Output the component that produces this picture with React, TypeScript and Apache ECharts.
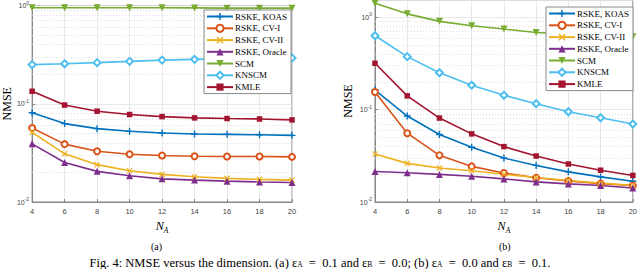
import React, { useEffect, useRef } from "react";
import * as echarts from "echarts";

const NA = [4, 6, 8, 10, 12, 14, 16, 18, 20];
const seriesNames = ["RSKE, KOAS", "RSKE, CV-I", "RSKE, CV-II", "RSKE, Oracle", "SCM", "KNSCM", "KMLE"];
const colors = ["#0072BD", "#D95319", "#EDB120", "#7E2F8E", "#77AC30", "#4DBEEE", "#A2142F"];

// (a) eps_A = 0.1, eps_B = 0.0
const aKOAS = [0.0809, 0.0628, 0.0558, 0.0524, 0.0504, 0.0492, 0.0488, 0.0484, 0.0477];
const aCV1 = [0.0567, 0.0388, 0.0329, 0.0306, 0.0297, 0.0292, 0.029, 0.029, 0.0288];
const aCV2 = [0.0512, 0.0309, 0.024, 0.0208, 0.0191, 0.0181, 0.0174, 0.017, 0.0167];
const aOracle = [0.0391, 0.0252, 0.0205, 0.0185, 0.0172, 0.0167, 0.0163, 0.016, 0.0158];
const aSCM = [0.95, 0.95, 0.95, 0.95, 0.95, 0.945, 0.94, 0.94, 0.94];
const aKNSCM = [0.25, 0.255, 0.262, 0.27, 0.278, 0.283, 0.287, 0.29, 0.292];
const aKMLE = [0.134, 0.097, 0.084, 0.0777, 0.074, 0.0718, 0.0707, 0.07, 0.0685];

// (b) eps_A = 0.0, eps_B = 0.1
const bKOAS = [0.163, 0.0853, 0.0538, 0.0392, 0.0299, 0.0249, 0.0212, 0.0187, 0.0168];
const bCV1 = [0.155, 0.0556, 0.032, 0.0243, 0.0206, 0.0183, 0.0169, 0.0158, 0.0151];
const bCV2 = [0.0331, 0.0262, 0.0233, 0.0218, 0.02, 0.0184, 0.0171, 0.016, 0.0151];
const bOracle = [0.0214, 0.0207, 0.0199, 0.019, 0.0178, 0.0165, 0.0157, 0.0151, 0.0142];
const bSCM = [1.42, 1.09, 0.904, 0.811, 0.746, 0.686, 0.66, 0.635, 0.615];
const bKNSCM = [0.631, 0.375, 0.251, 0.184, 0.143, 0.116, 0.095, 0.0818, 0.0698];
const bKMLE = [0.318, 0.141, 0.0811, 0.0547, 0.0398, 0.0315, 0.0258, 0.0221, 0.0194];

const minorGridA = [0.02, 0.03, 0.04, 0.05, 0.06, 0.07, 0.08, 0.09, 0.2, 0.3, 0.4, 0.5, 0.6, 0.7, 0.8, 0.9];
const minorGridB = [0.02, 0.03, 0.04, 0.05, 0.06, 0.07, 0.08, 0.09, 0.2, 0.3, 0.4, 0.5, 0.6, 0.7, 0.8, 0.9];

const PLUS = "path://M4,0H6V4H10V6H6V10H4V6H0V4H4Z";
const CROSS = "path://M1.4,0L5,3.6L8.6,0L10,1.4L6.4,5L10,8.6L8.6,10L5,6.4L1.4,10L0,8.6L3.6,5L0,1.4Z";

const symbols: any[] = [
  { symbol: PLUS, symbolSize: 7, rotate: 0, empty: false },
  { symbol: "emptyCircle", symbolSize: 6, rotate: 0, empty: true },
  { symbol: CROSS, symbolSize: 6, rotate: 0, empty: false },
  { symbol: "triangle", symbolSize: 7, rotate: 0, empty: false },
  { symbol: "triangle", symbolSize: 7, rotate: 180, empty: false },
  { symbol: "emptyDiamond", symbolSize: 7, rotate: 0, empty: true },
  { symbol: "rect", symbolSize: 5.5, rotate: 0, empty: false },
];

const SERIF = "Liberation Serif";
const SANS = "Liberation Sans";

export default function App() {
  const ref = useRef<HTMLDivElement>(null);
  useEffect(() => {
    if (!ref.current) return;
    const chart = echarts.init(ref.current, undefined, { renderer: "svg" });
    const dataA = [aKOAS, aCV1, aCV2, aOracle, aSCM, aKNSCM, aKMLE];
    const dataB = [bKOAS, bCV1, bCV2, bOracle, bSCM, bKNSCM, bKMLE];

    const makeSeries = (data: number[][], idx: number, minor: number[]) =>
      data.map((vals, i) => {
        const s = symbols[i];
        const ser: any = {
          type: "line",
          name: seriesNames[i],
          xAxisIndex: idx,
          yAxisIndex: idx,
          data: NA.map((x, k) => [x, vals[k]]),
          symbol: s.symbol,
          symbolSize: s.symbolSize,
          symbolRotate: s.rotate,
          showAllSymbol: true,
          color: colors[i],
          lineStyle: { width: 1.6, color: colors[i] },
          itemStyle: s.empty
            ? { color: colors[i], borderColor: colors[i], borderWidth: 1.2 }
            : { color: colors[i], borderWidth: 0 },
          z: 3,
        };
        if (i === 0) {
          ser.markLine = {
            silent: true,
            symbol: ["none", "none"],
            label: { show: false },
            lineStyle: { color: "#d6d6d6", type: [1, 2], width: 0.8 },
            data: minor.map((v) => ({ yAxis: v })),
            z: 1,
          };
        }
        return ser;
      });

    const yAxis = (gi: number, max: number, gap: number) => ({
      type: "log",
      gridIndex: gi,
      logBase: 10,
      min: 0.01,
      max,
      name: "NMSE",
      nameLocation: "middle",
      nameGap: gap,
      nameRotate: 90,
      nameTextStyle: { fontFamily: SERIF, fontSize: 12, color: "#000" },
      axisLine: { show: true, lineStyle: { color: "#888", width: 1 } },
      axisTick: { show: true, inside: true, length: 3, lineStyle: { color: "#888" } },
      minorTick: { show: false },
      splitLine: { show: true, lineStyle: { color: "#e2e2e2", width: 0.8 } },
      axisLabel: {
        margin: 3,
        showMaxLabel: gi === 0 ? true : false,
        formatter: (v: number) => `{b|10}{s|${Math.round(Math.log10(v))}}`,
        rich: {
          b: { fontFamily: SANS, fontSize: 7, color: "#444" },
          s: { fontFamily: SANS, fontSize: 5, color: "#444", padding: [0, 0, 6, 0] },
        },
      },
    });

    const xAxis = (gi: number) => ({
      type: "value",
      gridIndex: gi,
      min: 4,
      max: 20,
      interval: 2,
      name: "{n|N}{s|A}",
      nameLocation: "middle",
      nameGap: 16,
      nameTextStyle: {
        rich: {
          n: { fontFamily: SERIF, fontStyle: "italic", fontSize: 12, color: "#000" },
          s: { fontFamily: SERIF, fontStyle: "italic", fontSize: 8, color: "#000", padding: [8, 0, 0, 0] },
        },
      },
      axisLine: { show: true, lineStyle: { color: "#888", width: 1 } },
      axisTick: { show: true, inside: true, length: 3, lineStyle: { color: "#888" } },
      splitLine: { show: true, lineStyle: { color: "#e2e2e2", width: 0.8 } },
      axisLabel: { margin: 5, fontFamily: SANS, fontSize: 7.5, color: "#444" },
    });

    const legend = (left: number, top: number) => ({
      orient: "vertical",
      left,
      top,
      data: seriesNames,
      itemWidth: 26,
      itemHeight: 9,
      itemGap: 2.7,
      padding: [2, 4, 2, 2],
      backgroundColor: "#fff",
      borderColor: "#888",
      borderWidth: 1,
      borderRadius: 0,
      textStyle: { fontFamily: SERIF, fontSize: 9, color: "#000", lineHeight: 9, padding: [0, 0, 0, -3] },
      selectedMode: false,
      z: 10,
    });

    chart.setOption({
      animation: false,
      backgroundColor: "#fff",
      grid: [
        { left: 31, top: 2, width: 261, height: 200, show: true, borderColor: "#888", borderWidth: 1, backgroundColor: "transparent" },
        { left: 375, top: 0, width: 260, height: 202, show: true, borderColor: "#888", borderWidth: 1, backgroundColor: "transparent" },
      ],
      xAxis: [xAxis(0), xAxis(1)],
      yAxis: [yAxis(0, 1, 15), yAxis(1, 1.54, 21)],
      legend: [legend(204, 10), legend(546, 7)],
      series: [...makeSeries(dataA, 0, minorGridA), ...makeSeries(dataB, 1, minorGridB)],
      graphic: [
        { type: "text", left: 151, top: 241, style: { text: "(a)", font: `10px "${SERIF}"`, fill: "#000" } },
        { type: "text", left: 499, top: 241, style: { text: "(b)", font: `10px "${SERIF}"`, fill: "#000" } },
        {
          type: "text",
          left: "center",
          top: 256,
          style: {
            text: "{t|Fig. 4: NMSE versus the dimension. (a) ε}{s|A}{t|\u2002=\u20020.1 and ε}{s|B}{t|\u2002=\u20020.0; (b) ε}{s|A}{t|\u2002=\u20020.0 and ε}{s|B}{t|\u2002=\u20020.1.}",
            rich: {
              t: { fontFamily: SERIF, fontSize: 12.5, fill: "#000", lineHeight: 13 },
              s: { fontFamily: SERIF, fontSize: 7.5, fill: "#000", lineHeight: 13, padding: [4, 0, 0, 0] },
            },
          },
        },
      ],
    });
    return () => chart.dispose();
  }, []);
  return <div ref={ref} style={{ position: "absolute", left: 0, top: 0, width: 640, height: 269 }} />;
}
